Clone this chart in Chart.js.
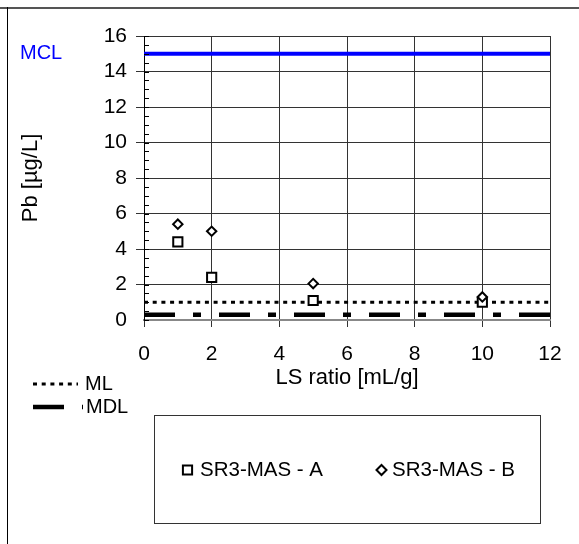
<!DOCTYPE html>
<html>
<head>
<meta charset="utf-8">
<script src="https://cdn.jsdelivr.net/npm/chart.js@4/dist/chart.umd.min.js"></script>
<style>
    html, body { margin: 0; padding: 0; background: #fff; }
    #wrap { position: relative; width: 579px; height: 544px; overflow: hidden; }
    #wrap canvas { position: absolute; left: 0; top: 0; }
    #topline { position: absolute; left: 0; top: 7px; width: 579px; border-top: 2px solid #555; }
    #leftline { position: absolute; left: 7px; top: 7px; bottom: 0; border-left: 1px solid #000; }
</style>
</head>
<body>
<div id="wrap">
    <canvas id="pb-chart" width="579" height="544"></canvas>
    <div id="topline"></div>
    <div id="leftline"></div>
</div>
<script>
// LS ratio [mL/g] per sample
var lsA = [1, 2, 5, 10]
var pbA = [4.4, 2.4, 1.1, 1.0]
var lsB = [1, 2, 5, 10]
var pbB = [5.4, 5.0, 2.05, 1.3]

// reference levels [ug/L]
var lineRange = [0, 12]
var mclLevel = 15
var mlLevel = 1
var mdlLevel = 0.3

var xMin = 0, xMax = 12, xStep = 2
var yMin = 0, yMax = 16, yStep = 2, yMinorStep = 0.5

var FONT = "'Liberation Sans', Arial, sans-serif"

function points(xs, ys) {
    return xs.map(function(x, i) { return { x: x, y: ys[i] } })
}

function level(v) {
    return lineRange.map(function(x) { return { x: x, y: v } })
}

// minor ticks on the inside of the y axis + the two legends and the MCL label
var extras = {
    id: 'extras',
    afterDraw: function(chart) {
        var ctx = chart.ctx
        var y = chart.scales.y
        var area = chart.chartArea
        var ds = chart.data.datasets

        ctx.save()
        ctx.strokeStyle = '#000'
        ctx.lineWidth = 1
        for (var v = yMin; v <= yMax; v += yMinorStep) {
            var py = Math.round(y.getPixelForValue(v)) + 0.5
            ctx.beginPath()
            ctx.moveTo(area.left, py)
            ctx.lineTo(area.left + 5, py)
            ctx.stroke()
        }

        // MCL label
        var mcl = ds[2]
        ctx.fillStyle = mcl.borderColor
        ctx.font = '20px ' + FONT
        ctx.textBaseline = 'middle'
        ctx.textAlign = 'left'
        ctx.fillText(mcl.label, 20, y.getPixelForValue(mclLevel))

        // ML / MDL line legend
        var lineItems = [[ds[3], 384, 78, 85], [ds[4], 407, 83, 86]]
        lineItems.forEach(function(it) {
            var d = it[0]
            ctx.save()
            ctx.strokeStyle = d.borderColor
            ctx.lineWidth = d.borderWidth
            ctx.setLineDash(d.borderDash)
            ctx.beginPath()
            ctx.moveTo(33, it[1])
            ctx.lineTo(it[2], it[1])
            ctx.stroke()
            ctx.restore()
            ctx.fillStyle = '#000'
            ctx.fillText(d.label, it[3], it[1])
        })

        // boxed legend for the samples
        ctx.font = '20.5px ' + FONT
        ctx.strokeStyle = '#333'
        ctx.lineWidth = 1
        ctx.strokeRect(154.5, 415.5, 386, 108)
        var boxItems = [[ds[0], 187.5, 200], [ds[1], 381.5, 392]]
        boxItems.forEach(function(it) {
            var d = it[0]
            ctx.lineWidth = 2
            ctx.strokeStyle = '#000'
            ctx.fillStyle = '#fff'
            Chart.helpers.drawPoint(ctx, {
                pointStyle: d.pointStyle,
                radius: d.pointStyle === 'rect' ? 6.5 : 5,
                borderWidth: 2
            }, it[1], 470)
            ctx.fillStyle = '#000'
            ctx.fillText(d.label, it[2], 470)
        })
        ctx.restore()
    }
}

function drawChart() {
    var ctx = document.getElementById('pb-chart')
    Chart.defaults.font.family = FONT
    Chart.defaults.color = '#000'
    new Chart(ctx, {
        type: 'scatter',
        data: {
            datasets: [{
                label: 'SR3-MAS - A',
                data: points(lsA, pbA),
                pointStyle: 'rect',
                pointRadius: 6.5,
                pointBorderWidth: 2,
                borderColor: '#000',
                backgroundColor: '#fff',
                order: 1
            }, {
                label: 'SR3-MAS - B',
                data: points(lsB, pbB),
                pointStyle: 'rectRot',
                pointRadius: 4.7,
                pointBorderWidth: 2,
                borderColor: '#000',
                backgroundColor: '#fff',
                order: 0
            }, {
                label: 'MCL',
                data: level(mclLevel),
                showLine: true,
                borderColor: '#0000ff',
                borderWidth: 4,
                borderCapStyle: 'square',
                pointRadius: 0,
                order: 4
            }, {
                label: 'ML',
                data: level(mlLevel),
                showLine: true,
                borderColor: '#000',
                borderWidth: 3,
                borderDash: [4, 4.7],
                pointRadius: 0,
                order: 3
            }, {
                label: 'MDL',
                data: level(mdlLevel),
                showLine: true,
                borderColor: '#000',
                borderWidth: 4.5,
                borderDash: [31, 18, 8, 18],
                pointRadius: 0,
                order: 2
            }]
        },
        options: {
            responsive: false,
            animation: false,
            devicePixelRatio: 1,
            layout: { padding: { top: 36, right: 29, left: 0, bottom: 0 } },
            plugins: {
                legend: { display: false },
                tooltip: { enabled: false }
            },
            scales: {
                x: {
                    type: 'linear',
                    min: xMin,
                    max: xMax,
                    afterFit: function(s) { s.height = 224 },
                    ticks: { stepSize: xStep, padding: 15, font: { size: 21 } },
                    grid: { color: '#333', lineWidth: 1, tickLength: 7 },
                    border: { color: '#888', width: 2 },
                    title: {
                        display: true,
                        text: 'LS ratio [mL/g]',
                        font: { size: 22 },
                        padding: { top: 0, bottom: 153 }
                    }
                },
                y: {
                    min: yMin,
                    max: yMax,
                    afterFit: function(s) { s.width = 144 },
                    ticks: { stepSize: yStep, padding: 9, font: { size: 21 } },
                    grid: {
                        color: function(c) { return c.tick && c.tick.value === 0 ? 'rgba(0,0,0,0)' : '#333' },
                        lineWidth: 1,
                        tickLength: 8
                    },
                    border: { color: '#000', width: 1 },
                    title: {
                        display: true,
                        text: 'Pb [µg/L]',
                        font: { size: 22 },
                        padding: { top: 18, bottom: 0 }
                    }
                }
            }
        },
        plugins: [extras]
    })
}

drawChart()
</script>
</body>
</html>
